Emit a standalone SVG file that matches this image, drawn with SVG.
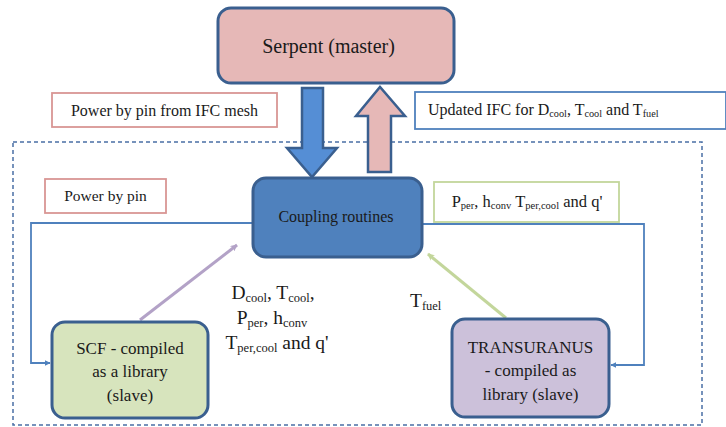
<svg xmlns="http://www.w3.org/2000/svg" width="726" height="427" viewBox="0 0 726 427">
<defs>
<style>
text{fill:#1a1a1a;}
.node{stroke:#3a5f8f;stroke-width:3;}
.lbl{fill:#fff;stroke-width:1.8;}
.conn{fill:none;stroke:#4f81bd;stroke-width:1.8;}
.sub{font-size:64%;}
</style>
<marker id="ab" viewBox="0 0 10 10" refX="9" refY="5" markerWidth="6" markerHeight="6" orient="auto" markerUnits="userSpaceOnUse">
<path d="M0,0 L10,5 L0,10 z" fill="#4f81bd"/>
</marker>
<marker id="ap" viewBox="0 0 10 10" refX="9" refY="5" markerWidth="7" markerHeight="7" orient="auto" markerUnits="userSpaceOnUse">
<path d="M0,0 L10,5 L0,10 L3,5 z" fill="#b3a2c7"/>
</marker>
<marker id="ag" viewBox="0 0 10 10" refX="9" refY="5" markerWidth="7" markerHeight="7" orient="auto" markerUnits="userSpaceOnUse">
<path d="M0,0 L10,5 L0,10 L3,5 z" fill="#c3d69b"/>
</marker>
</defs>
<rect width="726" height="427" fill="#fff"/>

<g id="boundary">
<rect x="13" y="142" width="689" height="283" fill="none" stroke="#4a6fa5" stroke-width="1.5" stroke-dasharray="4,3"/>
</g>

<g id="connectors">
<polyline class="conn" points="253,223 31,223 31,363 50,363" marker-end="url(#ab)"/>
<polyline class="conn" points="422,224 644,224 644,365 611,365" marker-end="url(#ab)"/>
<line x1="140" y1="320" x2="237" y2="245" stroke="#b3a2c7" stroke-width="3" marker-end="url(#ap)"/>
<line x1="506" y1="318" x2="428" y2="254" stroke="#c3d69b" stroke-width="3" marker-end="url(#ag)"/>
<path id="arrow-down" d="M302,88 H323 V148 H337 L312,177 L287,148 H302 Z" fill="#558ed5" stroke="#3a5f8f" stroke-width="2.5"/>
<path id="arrow-up" d="M368,172 V116 H356 L380,87 L405,116 H391 V172 Z" fill="#e6b8b7" stroke="#3a5f8f" stroke-width="2.5"/>
</g>

<g id="serpent" font-family="Liberation Serif">
<rect class="node" x="218" y="8" width="236" height="75" rx="13" fill="#e6b8b7"/>
<text x="328.5" y="53" font-size="20" text-anchor="middle">Serpent (master)</text>
</g>

<g id="label-power-ifc" font-family="Liberation Serif">
<rect class="lbl" x="52" y="93" width="225" height="34" stroke="#d99694"/>
<text x="164.5" y="115.5" font-size="16" text-anchor="middle">Power by pin from IFC mesh</text>
</g>

<g id="label-updated-ifc" font-family="Liberation Serif">
<rect class="lbl" x="415" y="92" width="311" height="37" stroke="#4f81bd"/>
<text x="428" y="115" font-size="16">Updated IFC for D<tspan class="sub" dy="2">cool</tspan><tspan dy="-2">, T</tspan><tspan class="sub" dy="2">cool</tspan><tspan dy="-2"> and T</tspan><tspan class="sub" dy="2">fuel</tspan></text>
</g>

<g id="label-power-pin" font-family="Liberation Serif">
<rect class="lbl" x="45" y="179" width="121" height="34" stroke="#d99694"/>
<text x="105.5" y="201" font-size="15.5" text-anchor="middle">Power by pin</text>
</g>

<g id="coupling" font-family="Liberation Serif">
<rect class="node" x="253" y="178" width="169" height="79" rx="13" fill="#4f81bd"/>
<text x="336" y="222" font-size="16" text-anchor="middle">Coupling routines</text>
</g>

<g id="label-pper" font-family="Liberation Serif">
<rect class="lbl" x="434" y="182" width="185" height="40" stroke="#c3d69b"/>
<text x="527" y="207" font-size="16.5" text-anchor="middle">P<tspan class="sub" dy="2">per</tspan><tspan dy="-2">, h</tspan><tspan class="sub" dy="2">conv</tspan><tspan dy="-2"> T</tspan><tspan class="sub" dy="2">per,cool</tspan><tspan dy="-2"> and q'</tspan></text>
</g>

<g id="label-scf-out" font-family="Liberation Serif">
<text x="273" y="299" font-size="19.5" text-anchor="middle">D<tspan class="sub" dy="3">cool</tspan><tspan dy="-3">, T</tspan><tspan class="sub" dy="3">cool</tspan><tspan dy="-3">,</tspan></text>
<text x="272" y="324" font-size="19.5" text-anchor="middle">P<tspan class="sub" dy="3">per</tspan><tspan dy="-3">, h</tspan><tspan class="sub" dy="3">conv</tspan></text>
<text x="277" y="349" font-size="19.5" text-anchor="middle">T<tspan class="sub" dy="3">per,cool</tspan><tspan dy="-3"> and q'</tspan></text>
</g>

<g id="label-tfuel" font-family="Liberation Serif">
<text x="410" y="307" font-size="19.5">T<tspan class="sub" dy="3">fuel</tspan></text>
</g>

<g id="scf" font-family="Liberation Serif">
<rect class="node" x="52" y="322" width="156" height="96" rx="13" fill="#d7e4bd"/>
<text x="130" y="354" font-size="17" text-anchor="middle">SCF - compiled</text>
<text x="130" y="377" font-size="17" text-anchor="middle">as a library</text>
<text x="130" y="401" font-size="17" text-anchor="middle">(slave)</text>
</g>

<g id="transuranus" font-family="Liberation Serif">
<rect class="node" x="452" y="319" width="157" height="98" rx="13" fill="#ccc1da"/>
<text x="530.5" y="353" font-size="17" text-anchor="middle">TRANSURANUS</text>
<text x="530.5" y="376" font-size="17" text-anchor="middle">- compiled as</text>
<text x="530.5" y="400" font-size="17" text-anchor="middle">library (slave)</text>
</g>
</svg>
